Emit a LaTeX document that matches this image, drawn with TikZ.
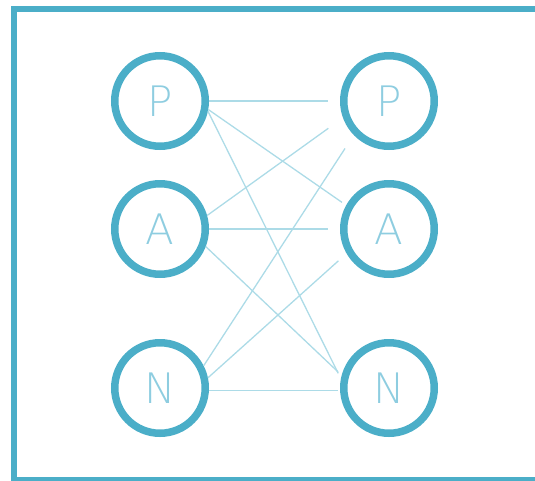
\documentclass[tikz,border=0pt]{standalone}
\usepackage{fontspec}
\newfontfamily\letterfont{DejaVu Sans ExtraLight}
\usepackage{tikz}

\definecolor{ringblue}{HTML}{4BAEC8}
\definecolor{wireblue}{HTML}{ACDBE7}
\definecolor{letterblue}{HTML}{8ECDE0}

\tikzset{
	ring/.style = {circle, draw = ringblue, line width = 7.5pt, minimum size = 90.5pt,
		inner sep = 0pt, text = letterblue, font = \letterfont\fontsize{42}{42}\selectfont},
	wire/.style = {draw = wireblue, line width = 1.3pt}
}

\begin{document}
\begin{tikzpicture}[x = 1pt, y = -1pt]
	\useasboundingbox (0, 0) rectangle (535, 480);
	\draw [ringblue, line width = 6pt] (14, 9) rectangle (560, 479.5);
	\node [ring] (pl) at (160, 101) {P};
	\node [ring] (al) at (160, 229) {A};
	\node [ring] (nl) at (160, 388) {N};
	\node [ring] (pr) at (389, 101) {P};
	\node [ring] (ar) at (389, 229) {A};
	\node [ring] (nr) at (389, 388) {N};
	\draw [wire, shorten > = 12pt] (pl.east) -- (pr.west);
	\draw [wire, shorten > = 5pt] (pl.-10) -- (ar.151);
	\draw [wire, shorten > = 6pt] (pl.-12) -- (nr.169);
	\draw [wire, shorten > = 18pt] (al.16) -- (pr.200);
	\draw [wire, shorten > = 12pt] (al.east) -- (ar.west);
	\draw [wire, shorten > = 5pt] (al.-21) -- (nr.165);
	\draw [wire, shorten > = 16pt] (nl.27) -- (pr.224);
	\draw [wire, shorten > = 11pt] (nl.12) -- (ar.210);
	\draw [wire, shorten > = 2pt] (nl.-3) -- (nr.183);
\end{tikzpicture}
\end{document}
